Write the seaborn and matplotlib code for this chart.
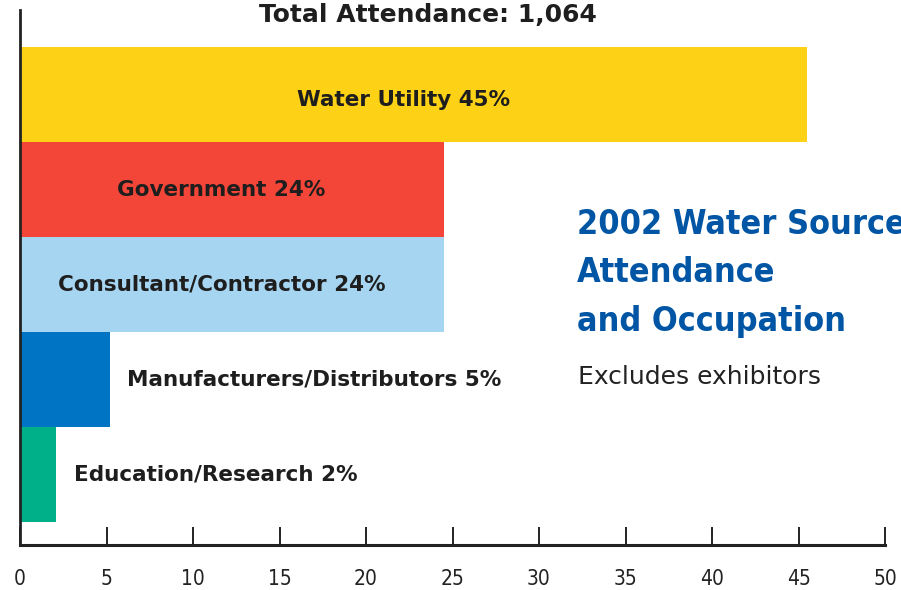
import seaborn as sns
import pandas as pd
import matplotlib.pyplot as plt

categories = ['Water Utility', 'Government', 'Consultant/Contractor',
              'Manufacturers/Distributors', 'Education/Research']
shares = [45.5, 24.5, 24.5, 5.2, 2.1]
labels = ['45%', '24%', '24%', '5%', '2%']
colors = ['#fdd116', '#f44638', '#a6d5f2', '#0074c4', '#00b089']
x_ticks = [0, 5, 10, 15, 20, 25, 30, 35, 40, 45, 50]

title = 'Total Attendance: 1,064'
side_title = '2002 Water Source\nAttendance\nand Occupation'
side_note = 'Excludes exhibitors'


def main():
    sns.set_style('white')
    plt.rcParams['font.family'] = ['DejaVu Sans']

    df = pd.DataFrame({'category': categories, 'share': shares})

    fig = plt.figure(figsize=(9.01, 5.90), dpi=100)
    ax = fig.add_axes([20 / 901, 45 / 590, 865 / 901, 535 / 590])
    sns.barplot(data=df, x='share', y='category', hue='category',
                palette=colors, orient='h', width=1.0, legend=False,
                saturation=1, linewidth=0, ax=ax)

    ax.set_xlim(0, 50)
    ax.set_ylim(4.74, -0.89)
    ax.set_xlabel('')
    ax.set_ylabel('')
    ax.set_yticks([])
    ax.set_xticks(x_ticks)
    ax.set_xticklabels([str(t) for t in x_ticks], fontsize=15,
                       fontstretch='condensed', color='#222222')
    ax.tick_params(axis='x', bottom=True, direction='in', length=13,
                   width=1.4, color='#222222', pad=17)
    for side in ['top', 'right']:
        ax.spines[side].set_visible(False)
    ax.spines['left'].set_linewidth(2)
    ax.spines['left'].set_color('#222222')
    ax.spines['bottom'].set_linewidth(2.2)
    ax.spines['bottom'].set_color('#222222')

    for i, (cat, val, lab) in enumerate(zip(categories, shares, labels)):
        text = cat + ' ' + lab
        dy = 0.06 if i == 0 else 0
        if val > 20:
            ax.text(val / 2 - 0.6, i + dy, text, ha='center', va='center',
                    fontsize=15.5, fontweight='bold', color='#1e1e1e')
        else:
            ax.text(val + 1.0, i, text, ha='left', va='center',
                    fontsize=15.5, fontweight='bold', color='#1e1e1e')

    fig.text(428 / 901, 1 - 15 / 590, title, ha='center', va='center',
             fontsize=18, fontweight='bold', color='#1e1e1e')
    fig.text(577 / 901, 1 - 273 / 590, side_title, ha='left', va='center',
             fontsize=24.5, fontweight='bold', fontstretch='condensed',
             color='#0055a4', linespacing=1.58)
    fig.text(578 / 901, 1 - 377 / 590, side_note, ha='left', va='center',
             fontsize=18, color='#222222')

    plt.savefig('out.png', dpi=100)


if __name__ == '__main__':
    main()
